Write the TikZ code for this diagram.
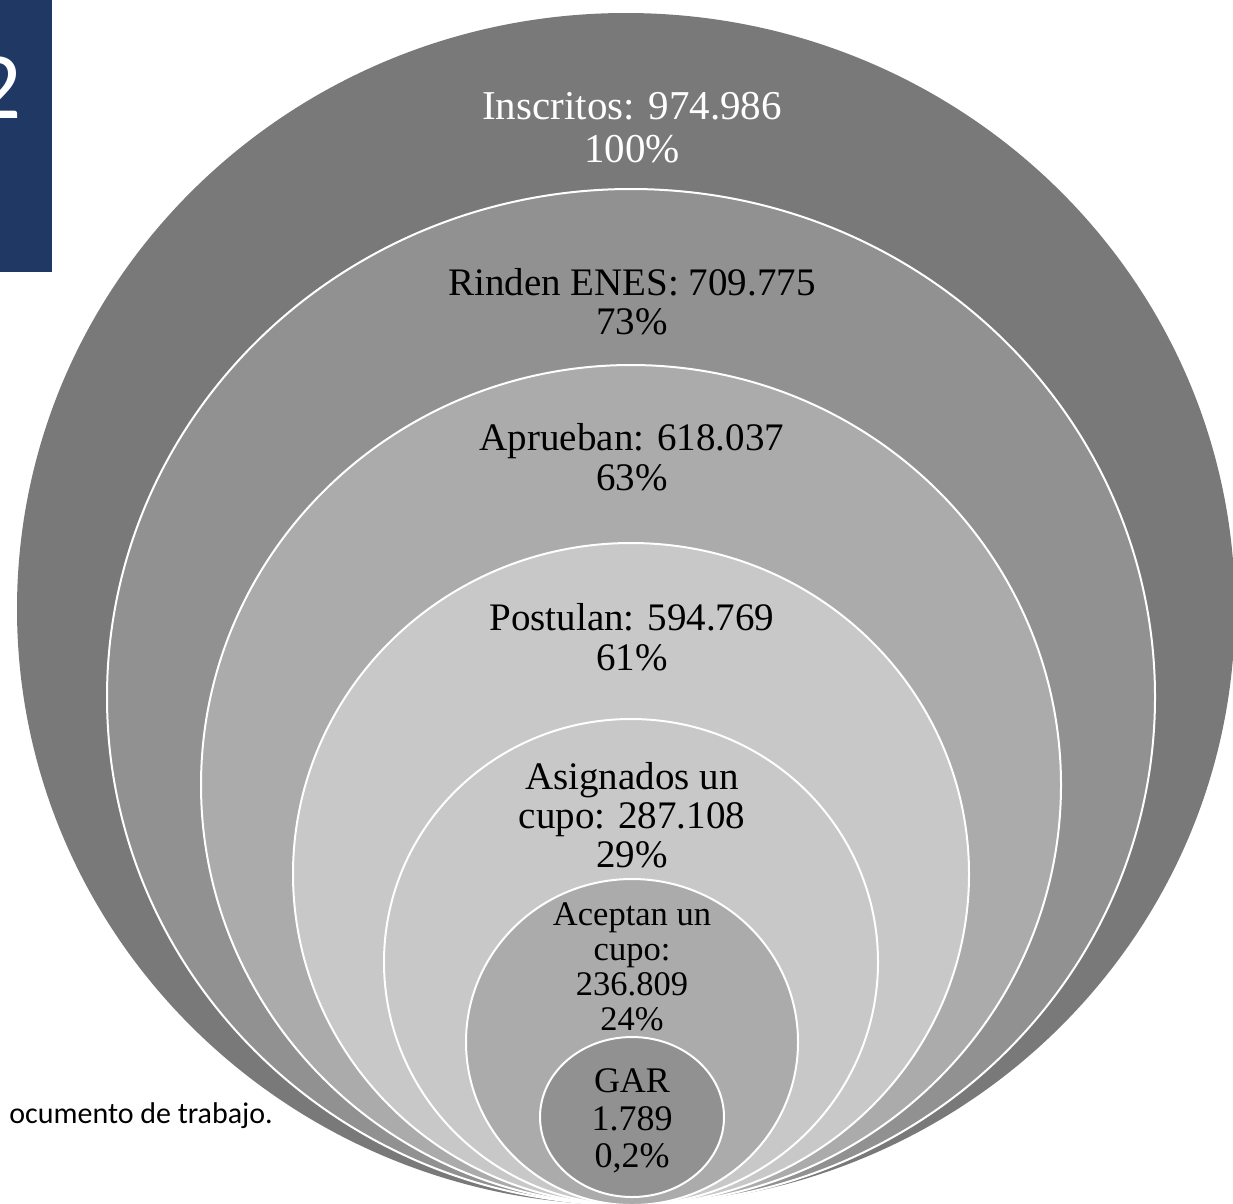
\documentclass[tikz,border=0pt]{standalone}
\usepackage{fontspec}
\setmainfont{Liberation Serif}
\newfontfamily\calibri{Carlito}
\definecolor{ringA}{HTML}{797979}
\definecolor{ringB}{HTML}{919191}
\definecolor{ringC}{HTML}{ABABAB}
\definecolor{ringD}{HTML}{C8C8C8}
\definecolor{navy}{HTML}{1F3864}
\tikzset{
  ring/.style={draw=white,line width=2pt},
  big/.style={font=\fontsize{39}{39}\selectfont,inner sep=0pt,anchor=base},
  small/.style={font=\fontsize{34.5}{34.5}\selectfont,inner sep=0pt,anchor=base}
}
\begin{document}
\begin{tikzpicture}[x=1pt,y=-1pt]
\useasboundingbox (0,0) rectangle (1233,1203);
\clip (0,0) rectangle (1233,1203);
% side tab
\fill[navy] (0,0) rectangle (52,272);
\node[font=\calibri\fontsize{95}{95}\selectfont,text=white,inner sep=0pt,anchor=base west] (tabnum) at (-27,118) {2};
% source note
\node[font=\calibri\fontsize{30}{30}\selectfont,inner sep=0pt,anchor=base east] (src) at (273,1123) {ocumento de trabajo.};
% nested circles
\fill[ringA] (626,609) ellipse [x radius=609,y radius=596];
\filldraw[ringB,ring] (631,697) ellipse [x radius=524,y radius=508];
\filldraw[ringC,ring] (631,785) ellipse [x radius=430,y radius=420];
\filldraw[ringD,ring] (631,874) ellipse [x radius=338,y radius=331];
\filldraw[ringD,ring] (631,962) ellipse [x radius=247,y radius=243];
\filldraw[ringC,ring] (632,1042) ellipse [x radius=166,y radius=163];
\filldraw[ringB,ring] (632,1117) ellipse [x radius=92,y radius=80];
% labels
\node[big,text=white,font=\fontsize{41}{41}\selectfont] (l1a) at (632,119) {Inscritos: 974.986};
\node[big,text=white,font=\fontsize{41}{41}\selectfont] (l1b) at (632,162) {100\%};
\node[big] (l2a) at (632,295) {Rinden ENES: 709.775};
\node[big] (l2b) at (632,334) {73\%};
\node[big] (l3a) at (632,450) {Aprueban: 618.037};
\node[big] (l3b) at (632,490) {63\%};
\node[big] (l4a) at (632,630) {Postulan: 594.769};
\node[big] (l4b) at (632,670) {61\%};
\node[big] (l5a) at (632,789) {Asignados un};
\node[big] (l5b) at (632,828) {cupo: 287.108};
\node[big] (l5c) at (632,867) {29\%};
\node[small] (l6a) at (632,925) {Aceptan un};
\node[small] (l6b) at (632,960) {cupo:};
\node[small] (l6c) at (632,995) {236.809};
\node[small] (l6d) at (632,1030) {24\%};
\node[small,font=\fontsize{36}{36}\selectfont] (l7a) at (632,1092) {GAR};
\node[small,font=\fontsize{36}{36}\selectfont] (l7b) at (632,1130) {1.789};
\node[small,font=\fontsize{36}{36}\selectfont] (l7c) at (632,1167) {0,2\%};
\end{tikzpicture}
\end{document}
